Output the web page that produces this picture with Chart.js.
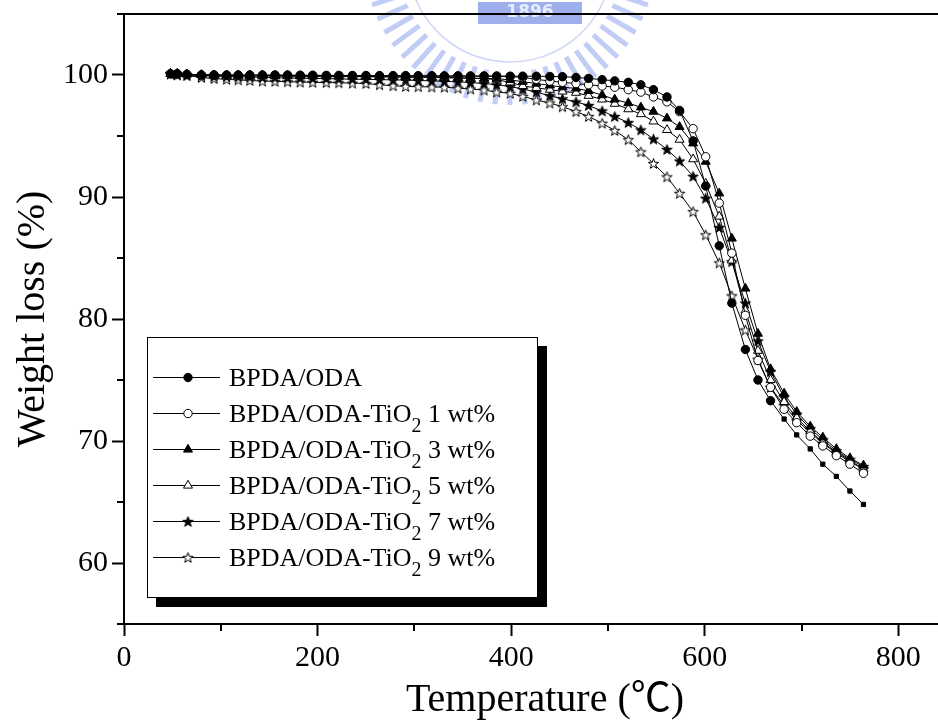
<!DOCTYPE html>
<html><head><meta charset="utf-8">
<script src="https://cdn.jsdelivr.net/npm/chart.js@4.4.1/dist/chart.umd.min.js"></script>
<style>html,body{margin:0;padding:0;background:#fff;}canvas{display:block;}</style>
</head><body>
<canvas id="c" width="938" height="724"></canvas>
<script>
// ---------------- data ----------------
const temps = [48,55,65,80,93,106,118,130,143,156,169,182,195,209,222,236,250,264,278,291,304,318,331,345,358,372,385,399,412,426,440,453,467,480,494,507,521,534,547,561,574,588,601,615,628,642,655,668,682,695,709,722,736,750,764];

const bpdaOda = [100.1,100.1,100.05,100.0,100.0,100.0,100.0,100.0,100.0,100.0,100.0,99.98,99.98,99.97,99.97,99.96,99.96,99.95,99.95,99.95,99.94,99.94,99.93,99.93,99.92,99.92,99.91,99.9,99.9,99.9,99.88,99.86,99.8,99.72,99.62,99.52,99.4,99.2,98.8,98.2,97.1,94.6,90.9,86.0,81.3,77.5,75.0,73.3,71.8,70.5,69.35,68.1,67.1,65.9,64.8];

const tio2_1 = [100.1,100.1,100.05,100.0,100.0,99.98,99.98,99.97,99.97,99.96,99.96,99.95,99.95,99.94,99.94,99.93,99.93,99.92,99.92,99.91,99.9,99.9,99.9,99.9,99.9,99.9,99.9,99.88,99.8,99.65,99.5,99.4,99.3,99.2,99.1,99.0,98.8,98.6,98.2,97.8,97.0,95.6,93.3,89.5,85.4,80.3,76.6,74.4,72.6,71.5,70.4,69.6,68.8,68.1,67.35];

const tio2_3 = [100.1,100.1,100.05,100.0,99.98,99.97,99.96,99.95,99.94,99.93,99.92,99.91,99.9,99.9,99.89,99.88,99.87,99.86,99.85,99.84,99.83,99.82,99.8,99.78,99.75,99.72,99.7,99.6,99.45,99.3,99.15,99.0,98.9,98.7,98.35,98.0,97.7,97.35,97.0,96.45,95.75,94.4,92.9,90.3,86.6,82.5,78.8,75.9,73.9,72.4,71.2,70.3,69.35,68.6,68.0];

const tio2_5 = [100.1,100.1,100.05,100.0,99.98,99.97,99.96,99.95,99.94,99.93,99.92,99.91,99.9,99.89,99.88,99.87,99.86,99.85,99.84,99.83,99.82,99.8,99.78,99.75,99.72,99.7,99.62,99.4,99.1,98.95,98.8,98.65,98.55,98.3,98.0,97.65,97.2,96.8,96.2,95.5,94.7,93.1,91.1,88.4,84.8,80.7,77.4,75.0,73.2,71.9,70.8,69.9,69.1,68.4,67.7];

const tio2_7 = [100.1,100.05,100.0,99.95,99.9,99.88,99.85,99.83,99.8,99.78,99.76,99.74,99.72,99.7,99.68,99.66,99.64,99.62,99.6,99.58,99.55,99.52,99.48,99.44,99.38,99.3,99.2,99.05,98.85,98.6,98.3,98.05,97.8,97.5,97.05,96.6,96.1,95.5,94.75,93.9,92.95,91.7,89.9,87.5,84.7,81.3,78.2,75.7,73.6,72.2,71.0,70.1,69.2,68.5,67.9];

const tio2_9 = [100.1,100.0,99.95,99.8,99.7,99.65,99.6,99.55,99.5,99.48,99.45,99.42,99.4,99.38,99.36,99.33,99.3,99.2,99.12,99.06,99.04,99.02,99.0,98.92,98.85,98.77,98.6,98.5,98.25,97.95,97.7,97.4,97.0,96.6,96.05,95.45,94.7,93.7,92.75,91.65,90.3,88.8,86.9,84.6,81.9,79.1,76.7,74.4,72.9,71.7,70.7,69.8,69.0,68.3,67.7];

const seriesNames = ['BPDA/ODA', 'BPDA/ODA-TiO2 1 wt%', 'BPDA/ODA-TiO2 3 wt%', 'BPDA/ODA-TiO2 5 wt%', 'BPDA/ODA-TiO2 7 wt%', 'BPDA/ODA-TiO2 9 wt%'];
const xTickValues = [0, 100, 200, 300, 400, 500, 600, 700, 800];
const xTickLabels = [0, 200, 400, 600, 800];
const yTickValues = [55, 60, 65, 70, 75, 80, 85, 90, 95, 100, 105];
const yTickLabels = [60, 70, 80, 90, 100];
const xMinorTicks = [100, 300, 500, 700];
const yMinorTicks = [55, 65, 75, 85, 95, 105];
const xTitle = 'Temperature (\u2103)';
const yTitle = 'Weight loss (%)';

// ---------------- styles ----------------
const SERIF = '"Liberation Serif", "Noto Sans CJK SC", serif';

function makeStar(fill) {
  const c = document.createElement('canvas');
  c.width = 13; c.height = 13;
  const g = c.getContext('2d');
  g.beginPath();
  for (let k = 0; k < 10; k++) {
    const r = k % 2 === 0 ? 5.4 : 2.2;
    const a = -Math.PI / 2 + k * Math.PI / 5;
    const px = 6.5 + r * Math.cos(a), py = 7 + r * Math.sin(a);
    if (k === 0) g.moveTo(px, py); else g.lineTo(px, py);
  }
  g.closePath();
  g.fillStyle = fill; g.fill();
  g.lineWidth = 1; g.strokeStyle = '#000'; g.stroke();
  return c;
}
const starFilled = makeStar('#000');
const starOpen = makeStar('#fff');

const markerDefs = [
  {style: 'circle', fill: '#000', r: 4.2},
  {style: 'circle', fill: '#fff', r: 4.2},
  {style: 'triangle', fill: '#000', r: 5.2},
  {style: 'triangle', fill: '#fff', r: 5.2},
  {style: starFilled, fill: '#000', r: 5},
  {style: starOpen, fill: '#fff', r: 5}
];
const allValues = [bpdaOda, tio2_1, tio2_3, tio2_5, tio2_7, tio2_9];

const datasets = allValues.map((vals, i) => {
  const m = markerDefs[i];
  const ds = {
    label: seriesNames[i],
    data: temps.map((t, k) => ({x: t, y: vals[k]})),
    borderColor: '#000',
    borderWidth: 1,
    tension: 0,
    fill: false,
    pointStyle: m.style,
    pointRadius: m.r,
    pointBackgroundColor: m.fill,
    pointBorderColor: '#000',
    pointBorderWidth: 1
  };
  if (i === 0) {
    ds.pointStyle = c => c.dataIndex >= 48 ? 'rect' : 'circle';
    ds.pointRadius = c => c.dataIndex >= 48 ? 3 : 4.2;
  }
  return ds;
});

// ---------------- decoration helpers ----------------
function drawWatermark(ctx) {
  ctx.save();
  const cx = 510, cy = -40;
  ctx.strokeStyle = 'rgba(120,145,235,0.45)';
  ctx.lineWidth = 5;
  for (let a = 12; a <= 168; a += 6) {
    const r = a * Math.PI / 180;
    ctx.beginPath();
    ctx.moveTo(cx + Math.cos(r) * 112, cy + Math.sin(r) * 112);
    ctx.lineTo(cx + Math.cos(r) * 145, cy + Math.sin(r) * 145);
    ctx.stroke();
  }
  ctx.lineWidth = 1.5;
  ctx.strokeStyle = 'rgba(160,175,235,0.5)';
  ctx.beginPath();
  ctx.arc(cx, cy, 102, 0.15, Math.PI - 0.15);
  ctx.stroke();
  ctx.fillStyle = 'rgba(125,148,228,0.75)';
  ctx.fillRect(478, 2, 104, 22);
  ctx.fillStyle = 'rgba(235,240,255,0.95)';
  ctx.font = 'bold 17px "DejaVu Sans"';
  ctx.textAlign = 'center';
  ctx.textBaseline = 'middle';
  ctx.fillText('1896', 530, 13);
  ctx.restore();
}

function drawMarker(ctx, i, x, y) {
  const m = markerDefs[i];
  ctx.save();
  ctx.lineWidth = 1;
  ctx.strokeStyle = '#000';
  ctx.fillStyle = m.fill;
  if (m.style === 'circle') {
    ctx.beginPath(); ctx.arc(x, y, m.r, 0, Math.PI * 2); ctx.fill(); ctx.stroke();
  } else if (m.style === 'triangle') {
    const r = m.r;
    ctx.beginPath();
    ctx.moveTo(x, y - r);
    ctx.lineTo(x + Math.sin(2 * Math.PI / 3) * r, y + r / 2);
    ctx.lineTo(x - Math.sin(2 * Math.PI / 3) * r, y + r / 2);
    ctx.closePath(); ctx.fill(); ctx.stroke();
  } else {
    ctx.drawImage(m.style, x - m.style.width / 2, y - m.style.height / 2);
  }
  ctx.restore();
}

function drawLegend(ctx) {
  const bx = 147, by = 337, bw = 391, bh = 261;
  ctx.save();
  ctx.fillStyle = '#000';
  ctx.fillRect(bx + 9, by + 9, bw, bh);
  ctx.fillStyle = '#fff';
  ctx.fillRect(bx, by, bw, bh);
  ctx.strokeStyle = '#000';
  ctx.lineWidth = 1;
  ctx.strokeRect(bx + 0.5, by + 0.5, bw - 1, bh - 1);
  const main = '26px ' + SERIF, sub = '20px ' + SERIF;
  seriesNames.forEach((name, i) => {
    const y = 377 + 36 * i;
    ctx.strokeStyle = '#000';
    ctx.lineWidth = 1;
    ctx.beginPath(); ctx.moveTo(153, y + 0.5); ctx.lineTo(220, y + 0.5); ctx.stroke();
    drawMarker(ctx, i, 188, y + 0.5);
    ctx.fillStyle = '#000';
    ctx.textAlign = 'left';
    ctx.textBaseline = 'alphabetic';
    const base = y + 9;
    const idx = name.indexOf('TiO2');
    if (idx < 0) {
      ctx.font = main; ctx.fillText(name, 229, base);
    } else {
      const a = name.slice(0, idx + 3), b = name.slice(idx + 4);
      ctx.font = main; ctx.fillText(a, 229, base);
      let x = 229 + ctx.measureText(a).width;
      ctx.font = sub; ctx.fillText('2', x, base + 10);
      x += ctx.measureText('2').width;
      ctx.font = main; ctx.fillText(b, x, base);
    }
  });
  ctx.restore();
}

const decor = {
  id: 'decor',
  beforeDraw(chart) {
    const ctx = chart.ctx;
    ctx.save();
    ctx.fillStyle = '#fff';
    ctx.fillRect(0, 0, chart.width, chart.height);
    ctx.restore();
    drawWatermark(ctx);
  },
  afterDatasetsDraw(chart) {
    drawLegend(chart.ctx);
  },
  afterDraw(chart) {
    const ctx = chart.ctx, a = chart.chartArea;
    const xs = chart.scales.x, ys = chart.scales.y;
    ctx.save();
    ctx.strokeStyle = '#000';
    ctx.lineWidth = 2;
    ctx.beginPath(); ctx.moveTo(a.left, a.top); ctx.lineTo(a.right, a.top); ctx.stroke();
    xMinorTicks.forEach(v => {
      const px = Math.round(xs.getPixelForValue(v));
      ctx.beginPath(); ctx.moveTo(px, a.bottom); ctx.lineTo(px, a.bottom + 7); ctx.stroke();
    });
    yMinorTicks.forEach(v => {
      const py = Math.round(ys.getPixelForValue(v));
      ctx.beginPath(); ctx.moveTo(a.left - 7, py); ctx.lineTo(a.left, py); ctx.stroke();
    });
    ctx.fillStyle = '#000';
    ctx.font = '40px ' + SERIF;
    ctx.textAlign = 'center';
    ctx.textBaseline = 'middle';
    ctx.fillText(xTitle, 545, 700);
    ctx.translate(33, (a.top + a.bottom) / 2);
    ctx.rotate(-Math.PI / 2);
    ctx.fillText(yTitle, 0, 0);
    ctx.restore();
  }
};

const tickFont = {family: SERIF, size: 30};

new Chart(document.getElementById('c'), {
  type: 'line',
  data: {datasets},
  options: {
    responsive: false,
    animation: false,
    devicePixelRatio: 1,
    layout: {autoPadding: false, padding: {top: 14, left: 0, right: 0, bottom: 0}},
    plugins: {legend: {display: false}, tooltip: {enabled: false}},
    scales: {
      x: {
        type: 'linear', position: 'bottom', min: 0, max: 841,
        afterBuildTicks: s => { s.ticks = xTickValues.map(v => ({value: v})); },
        afterFit: s => { s.height = 100; s.paddingLeft = 0; s.paddingRight = 0; s.paddingTop = 0; s.paddingBottom = 0; },
        border: {display: true, color: '#000', width: 2},
        grid: {display: true, drawOnChartArea: false, drawTicks: true, tickLength: 12, tickWidth: 2, tickColor: '#000'},
        ticks: {autoSkip: false, maxRotation: 0, padding: 4, color: '#000', font: tickFont,
          callback: v => xTickLabels.includes(v) ? String(v) : null}
      },
      y: {
        type: 'linear', position: 'left', min: 55, max: 105,
        afterBuildTicks: s => { s.ticks = yTickValues.map(v => ({value: v})); },
        afterFit: s => { s.width = 124; s.paddingLeft = 0; s.paddingRight = 0; s.paddingTop = 0; s.paddingBottom = 0; },
        border: {display: true, color: '#000', width: 2},
        grid: {display: true, drawOnChartArea: false, drawTicks: true, tickLength: 12, tickWidth: 2, tickColor: '#000'},
        ticks: {autoSkip: false, padding: 4, color: '#000', font: tickFont,
          callback: v => yTickLabels.includes(v) ? String(v) : null}
      }
    }
  },
  plugins: [decor]
});
</script>
</body></html>
